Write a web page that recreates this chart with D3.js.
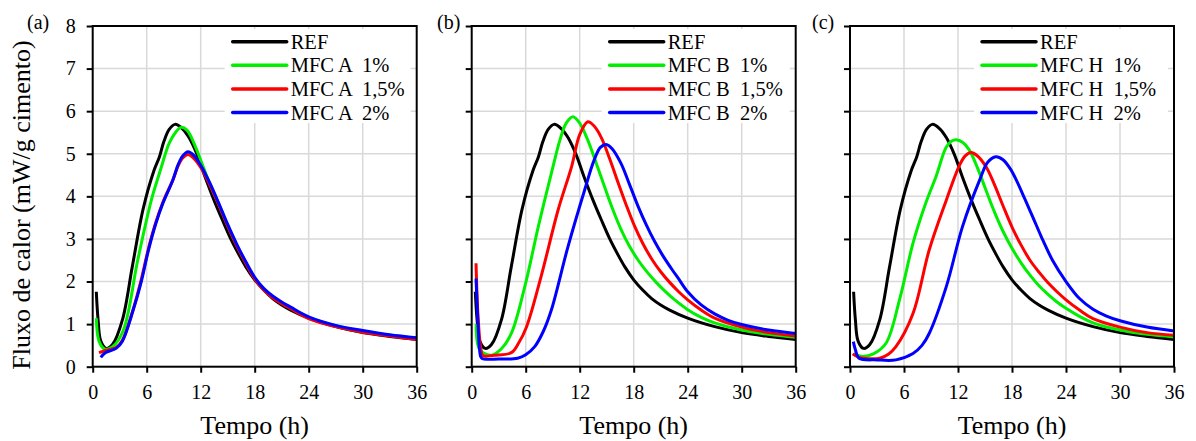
<!DOCTYPE html>
<html>
<head>
<meta charset="utf-8">
<script src="https://cdn.jsdelivr.net/npm/d3@7"></script>
<style>
  body { margin: 0; background: #fff; }
  svg text { font-family: "Liberation Serif", "Times New Roman", serif; fill: #000; }
</style>
</head>
<body>
<script>

// time (h) ticks and heat-flow ticks
var xTicks = [0, 6, 12, 18, 24, 30, 36];
var yTicks = [0, 1, 2, 3, 4, 5, 6, 7, 8];

// REF curve (same reference paste in all three panels): [time h, mW/g]
var refData = [[0.4,1.76],[0.6,1.1],[0.9,0.6],[1.5,0.43],[2.2,0.52],[3.3,1.1],[4.4,2.35],[5.6,3.7],
  [6.8,4.6],[7.4,4.92],[7.9,5.28],[8.5,5.57],[9.15,5.69],[10,5.58],[10.7,5.38],[11.6,4.98],[12.5,4.45],
  [13.5,3.9],[14.4,3.45],[15.3,3.02],[16.2,2.65],[17,2.35],[18,2.04],[19,1.8],[20,1.6],[21,1.45],
  [22,1.33],[24,1.14],[27,0.94],[30,0.8],[33,0.71],[36,0.64]];

// panel (a) MFC A
var a1Data = [[0.4,1.14],[0.7,0.6],[1.3,0.42],[2.2,0.47],[3.4,0.85],[5.0,2.5],[6.5,3.9],[7.5,4.6],
  [8.5,5.25],[9.2,5.5],[9.8,5.62],[10.5,5.55],[11.5,5.12],[12.3,4.68],[13,4.3],[14,3.82],[15,3.32],
  [16,2.86],[17,2.45],[18,2.08],[19,1.82],[20,1.64],[21,1.5],[22,1.38],[24,1.15],[27,0.96],[30,0.83],
  [33,0.74],[36,0.67]];
var a15Data = [[0.7,0.33],[1.4,0.38],[2.6,0.45],[3.3,0.62],[4.5,1.35],[5.4,2.05],[6.2,2.78],[7.0,3.38],
  [7.8,3.86],[8.9,4.38],[9.5,4.72],[10.0,4.9],[10.6,4.98],[11.2,4.9],[12,4.68],[13,4.27],[14,3.8],
  [15,3.3],[16,2.84],[17,2.43],[18,2.06],[19,1.8],[20,1.62],[21,1.48],[22,1.36],[24,1.13],[27,0.94],
  [30,0.81],[33,0.72],[36,0.64]];
var a2Data = [[0.9,0.22],[1.4,0.33],[2.6,0.43],[3.3,0.6],[4.5,1.33],[5.4,2.0],[6.2,2.74],[7.0,3.35],
  [7.8,3.84],[8.9,4.38],[9.5,4.75],[10.0,4.95],[10.6,5.05],[11.2,4.97],[12,4.73],[13,4.32],[14,3.84],
  [15,3.34],[16,2.88],[17,2.47],[18,2.1],[19,1.84],[20,1.66],[21,1.52],[22,1.4],[24,1.17],[27,0.97],
  [30,0.85],[33,0.75],[36,0.68]];

// panel (b) MFC B
var b1Data = [[0.5,1.0],[0.9,0.4],[2.2,0.27],[3.3,0.42],[4.4,0.78],[5.9,1.88],[7.4,3.29],[8.85,4.54],
  [9.8,5.32],[10.5,5.72],[11.25,5.87],[12,5.72],[12.9,5.32],[13.8,4.8],[14.8,4.2],[15.7,3.68],
  [16.6,3.22],[17.5,2.84],[18.5,2.5],[19.5,2.22],[20.5,1.98],[21.5,1.77],[22.5,1.58],[24,1.34],
  [25.5,1.16],[27,1.03],[30,0.86],[33,0.76],[36,0.69]];
var b15Data = [[0.48,2.43],[0.7,1.2],[1.0,0.45],[1.25,0.26],[2.5,0.27],[4.4,0.33],[5.2,0.55],[6.1,0.94],
  [7.7,2.11],[9.6,3.68],[11.1,4.7],[12.0,5.45],[12.9,5.75],[13.6,5.65],[14.4,5.38],[15.3,4.9],
  [16.3,4.3],[17.2,3.78],[18.1,3.3],[19,2.9],[20,2.53],[21,2.23],[22,1.98],[23,1.76],[24,1.57],
  [25.5,1.33],[27,1.14],[30,0.93],[33,0.8],[36,0.72]];
var b2Data = [[0.48,2.07],[0.7,1.0],[0.9,0.35],[1.1,0.2],[3,0.18],[5.1,0.2],[6.0,0.28],[7.0,0.47],
  [8.0,0.85],[8.85,1.33],[10.7,2.82],[12.55,4.15],[13.6,4.85],[14.3,5.15],[14.95,5.22],[15.6,5.12],
  [16.6,4.77],[17.5,4.3],[18.5,3.76],[19.4,3.33],[20.3,2.95],[21.2,2.62],[22.2,2.3],[23,2.06],
  [24,1.76],[25.5,1.45],[27,1.24],[28.5,1.09],[30,0.99],[33,0.86],[36,0.78]];

// panel (c) MFC H
var c1Data = [[0.4,0.3],[1.4,0.24],[2.6,0.3],[4.0,0.55],[5.5,1.57],[7.0,2.9],[8.4,3.83],[9.55,4.46],
  [10.7,5.16],[11.3,5.3],[11.8,5.33],[12.5,5.27],[13.25,5.09],[14.2,4.65],[15.1,4.15],[16,3.66],
  [17,3.18],[18,2.78],[19,2.44],[20,2.15],[21,1.9],[22,1.7],[23,1.52],[24,1.37],[25.5,1.18],
  [27,1.03],[30,0.86],[33,0.76],[36,0.7]];
var c15Data = [[0.3,0.3],[1.0,0.22],[3.3,0.2],[4.3,0.3],[5.1,0.47],[7.0,1.25],[8.8,2.74],[10.7,3.91],
  [12.1,4.7],[12.8,4.95],[13.45,5.03],[14.1,4.96],[15.1,4.7],[16,4.3],[17,3.78],[18,3.28],[19,2.86],
  [20,2.5],[21,2.22],[22,1.97],[23,1.76],[24,1.57],[25.5,1.33],[27,1.13],[30,0.93],[33,0.8],[36,0.74]];
var c2Data = [[0.37,0.59],[0.6,0.4],[1.0,0.2],[3,0.16],[5.1,0.16],[7.0,0.31],[8.0,0.5],[8.8,0.78],
  [10.7,1.88],[12.5,3.29],[14.4,4.38],[15.3,4.8],[16.2,4.93],[17,4.86],[17.8,4.65],[18.6,4.33],
  [19.4,3.95],[20.3,3.52],[21.2,3.08],[22.5,2.5],[24,2.0],[25.5,1.6],[27,1.35],[28.5,1.19],[30,1.08],
  [33,0.93],[36,0.84]];

var colors = ["#000000", "#00ee00", "#ff0000", "#0000ff"];

var panels = [
  {tag: "(a)", tagX: 27, left: 92.7, legX: 140, showY: true,
   names: ["REF", "MFC A  1%", "MFC A  1,5%", "MFC A  2%"], series: [refData, a1Data, a15Data, a2Data]},
  {tag: "(b)", tagX: 437, left: 471.7, legX: 138, showY: false,
   names: ["REF", "MFC B  1%", "MFC B  1,5%", "MFC B  2%"], series: [refData, b1Data, b15Data, b2Data]},
  {tag: "(c)", tagX: 812, left: 850, legX: 132, showY: false,
   names: ["REF", "MFC H  1%", "MFC H  1,5%", "MFC H  2%"], series: [refData, c1Data, c15Data, c2Data]}
];

var W = 1196, H = 441;
var plotW = 324, plotTop = 26, plotBottom = 366.7;

var svg = d3.select("body").append("svg")
  .attr("width", W).attr("height", H);

panels.forEach(function(p) {
  var x = d3.scaleLinear().domain([0, 36]).range([p.left, p.left + plotW]);
  var y = d3.scaleLinear().domain([0, 8]).range([plotBottom, plotTop]);
  var g = svg.append("g");

  // gridlines
  g.selectAll(".vg").data(xTicks.slice(1, -1)).enter().append("line")
    .attr("x1", function(d) { return x(d); }).attr("x2", function(d) { return x(d); })
    .attr("y1", plotTop).attr("y2", plotBottom)
    .attr("stroke", "#d9d9d9").attr("stroke-width", 1.5);
  g.selectAll(".hg").data(yTicks.slice(1, -1)).enter().append("line")
    .attr("y1", function(d) { return y(d); }).attr("y2", function(d) { return y(d); })
    .attr("x1", p.left).attr("x2", p.left + plotW)
    .attr("stroke", "#d9d9d9").attr("stroke-width", 1.5);

  // legend background hides the grid
  var lx = p.left + p.legX;
  g.append("rect")
    .attr("x", lx - 8).attr("y", plotTop + 3)
    .attr("width", p.left + plotW - 6 - (lx - 8)).attr("height", 94)
    .attr("fill", "#fff");

  var line = d3.line()
    .x(function(d) { return x(d[0]); })
    .y(function(d) { return y(d[1]); })
    .curve(d3.curveCatmullRom.alpha(0.5));

  p.series.forEach(function(s, i) {
    g.append("path").datum(s)
      .attr("d", line)
      .attr("fill", "none")
      .attr("stroke", colors[i])
      .attr("stroke-width", 3)
      .attr("stroke-linejoin", "round");
  });

  // legend
  p.names.forEach(function(n, i) {
    var ly = 41.7 + i * 23.6;
    g.append("line")
      .attr("x1", lx).attr("x2", lx + 54)
      .attr("y1", ly).attr("y2", ly)
      .attr("stroke", colors[i]).attr("stroke-width", 3.5).attr("stroke-linecap", "round");
    g.append("text")
      .attr("x", lx + 58).attr("y", ly + 7)
      .style("font-size", "20.5px")
      .style("white-space", "pre")
      .text(n);
  });

  // frame
  g.append("rect")
    .attr("x", p.left).attr("y", plotTop)
    .attr("width", plotW).attr("height", plotBottom - plotTop)
    .attr("fill", "none").attr("stroke", "#000").attr("stroke-width", 2);

  // axes
  var xa = g.append("g").attr("transform", "translate(0," + plotBottom + ")")
    .call(d3.axisBottom(x).tickValues(xTicks).tickSize(6).tickPadding(12));
  var ya = g.append("g").attr("transform", "translate(" + p.left + ",0)")
    .call(d3.axisLeft(y).tickValues(yTicks).tickSize(6).tickPadding(11)
      .tickFormat(p.showY ? d3.format("d") : function() { return ""; }));
  [xa, ya].forEach(function(a) {
    a.select(".domain").remove();
    a.selectAll(".tick line").attr("stroke", "#000").attr("stroke-width", 2);
    a.selectAll("text").style("font-size", "20px")
      .style("font-family", "'Liberation Serif', serif").attr("fill", "#000");
  });

  g.append("text")
    .attr("x", p.left + plotW / 2).attr("y", 434)
    .attr("text-anchor", "middle")
    .style("font-size", "26px")
    .text("Tempo (h)");

  g.append("text")
    .attr("x", p.tagX).attr("y", 29)
    .style("font-size", "20px")
    .text(p.tag);
});

svg.append("text")
  .attr("transform", "translate(30,205) rotate(-90)")
  .attr("text-anchor", "middle")
  .style("font-size", "26px")
  .text("Fluxo de calor (mW/g cimento)");

</script>
</body>
</html>
